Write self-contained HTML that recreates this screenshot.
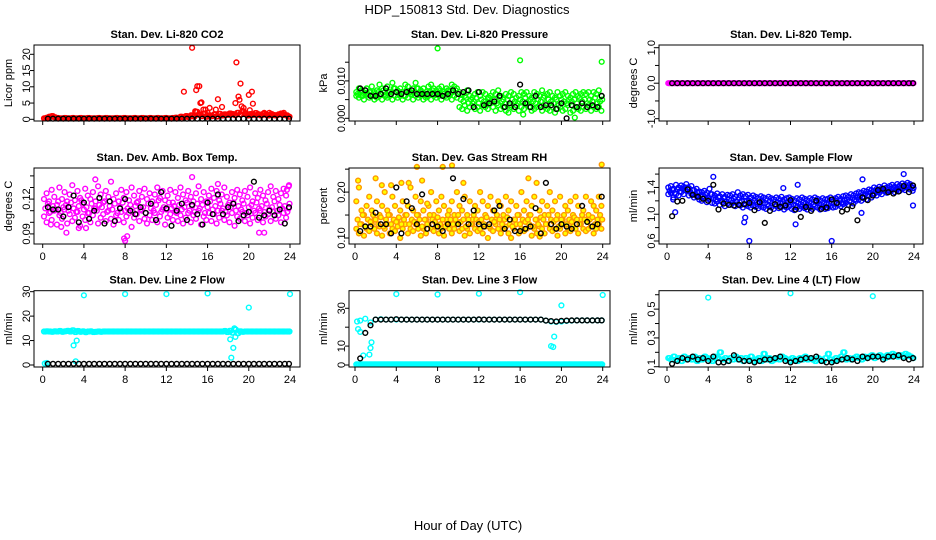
<!DOCTYPE html>
<html><head><meta charset="utf-8"><style>
html,body{margin:0;padding:0;background:#fff;}
svg{display:block;font-family:"Liberation Sans",sans-serif;}
</style></head><body>
<svg id="fig" width="936" height="540" viewBox="0 0 936 540">
<text x="467" y="14" text-anchor="middle" font-size="13">HDP_150813  Std. Dev. Diagnostics</text>
<text x="468" y="530" text-anchor="middle" font-size="13">Hour of Day (UTC)</text>
<defs><clipPath id="row1clip"><rect x="0" y="0" width="936" height="135"/></clipPath></defs>
</svg>
<script>
// ---------- shared sample hours ----------
const hoursQ = [0.125,0.375,0.625,0.875,1.125,1.375,1.625,1.875,2.125,2.375,2.625,2.875,3.125,3.375,3.625,3.875,4.125,4.375,4.625,4.875,5.125,5.375,5.625,5.875,6.125,6.375,6.625,6.875,7.125,7.375,7.625,7.875,8.125,8.375,8.625,8.875,9.125,9.375,9.625,9.875,10.125,10.375,10.625,10.875,11.125,11.375,11.625,11.875,12.125,12.375,12.625,12.875,13.125,13.375,13.625,13.875,14.125,14.375,14.625,14.875,15.125,15.375,15.625,15.875,16.125,16.375,16.625,16.875,17.125,17.375,17.625,17.875,18.125,18.375,18.625,18.875,19.125,19.375,19.625,19.875,20.125,20.375,20.625,20.875,21.125,21.375,21.625,21.875,22.125,22.375,22.625,22.875,23.125,23.375,23.625,23.875];
const hoursQ2 = [0.25,0.5,0.75,1,1.25,1.5,1.75,2,2.25,2.5,2.75,3,3.25,3.5,3.75,4,4.25,4.5,4.75,5,5.25,5.5,5.75,6,6.25,6.5,6.75,7,7.25,7.5,7.75,8,8.25,8.5,8.75,9,9.25,9.5,9.75,10,10.25,10.5,10.75,11,11.25,11.5,11.75,12,12.25,12.5,12.75,13,13.25,13.5,13.75,14,14.25,14.5,14.75,15,15.25,15.5,15.75,16,16.25,16.5,16.75,17,17.25,17.5,17.75,18,18.25,18.5,18.75,19,19.25,19.5,19.75,20,20.25,20.5,20.75,21,21.25,21.5,21.75,22,22.25,22.5,22.75,23,23.25,23.5,23.75,23.95];
const hoursH = [0.5,1,1.5,2,2.5,3,3.5,4,4.5,5,5.5,6,6.5,7,7.5,8,8.5,9,9.5,10,10.5,11,11.5,12,12.5,13,13.5,14,14.5,15,15.5,16,16.5,17,17.5,18,18.5,19,19.5,20,20.5,21,21.5,22,22.5,23,23.5,23.9];
const xTickValues = [0,4,8,12,16,20,24];
const xTickLabels = ["0","4","8","12","16","20","24"];

// ---------- Panel 1: CO2 ----------
const co2Red = [0.3,0.5,0.8,1,0.6,0.4,0.3,0.3,0.4,0.3,0.3,0.4,0.3,0.3,0.4,0.3,0.3,0.4,0.3,0.3,0.3,0.4,0.3,0.3,0.4,0.3,0.3,0.3,0.4,0.3,0.3,0.4,0.3,0.3,0.3,0.4,0.3,0.3,0.4,0.3,0.3,0.4,0.3,0.3,0.4,0.3,0.3,0.4,0.3,0.3,0.4,0.5,0.4,0.8,0.6,1,0.7,1.2,0.9,2.3,1.5,1,1.8,0.8,1.2,1,1.5,0.9,1.7,1.2,1.5,1.4,1.8,1.6,1.3,2,1.5,2.5,1.8,1.2,1.6,1.4,1.9,1.5,1.2,1.7,1.4,1.2,1.6,1.3,1.2,1.5,1.8,1.4,1.2,0.8];
const co2Black = [0.2,0.2,0.2,0.2,0.2,0.2,0.2,0.2,0.2,0.2,0.2,0.2,0.2,0.2,0.2,0.2,0.2,0.2,0.2,0.2,0.2,0.2,0.2,0.2,0.2,0.2,0.2,0.2,0.2,0.2,0.2,0.2,0.2,0.2,0.2,0.2,0.2,0.2,0.2,0.2,0.2,0.2,0.2,0.2,0.2,0.2,0.2,0.2];
const co2OutHours = [14.5,13.7,14.9,15.0,15.2,15.3,15.4,16.2,17.0,17.4,16.8,18.8,19.0,19.2,19.1,19.3,19.5,18.7,20.0,20.3,20.4,15.6,14.8,21.5,22,23.4,16.0,20.1,15.8];
const co2OutVals = [22,8.5,9,10.2,10.2,5,5.2,3.5,6.2,3.8,3,17.5,7,11,6,4,3.5,5,7.5,8.5,4.8,3,2.5,2,2,2,2,2.8,3];

// ---------- Panel 2: Pressure (units of 0.001 kPa) ----------
const presGreenA = [7,8,7.5,6.5,8,7,8.5,7,7.5,9,8,7,8.5,7,9.5,8,7.5,8,7,9,8.5,7,8,9.5,8,7.5,8,7,8.5,9,8,7.5,8,8.5,7,8,7.5,9,8.5,8,7,6.5,6,7.5,6,5.5,6.5,7,6,7,6.5,5.5,6,7,6.5,7.5,6,5,6.5,6,7,6.5,5.5,6,7,6.5,7,6,5.5,7,6.5,6,7.5,6,6.5,7,6,5.5,7,6,6.5,7,6,5.5,6.5,7,6,6.5,7,6.5,7,6,7,6.5,7.5,6];
const presGreenB = [6,5.5,6,5,6.5,5.5,6,5,5.5,6,5,6,5.5,6,5,6,5.5,6,5,6,5.5,6.5,5,6,5.5,6,5,5.5,6,5,6,5.5,6,5,6.5,5.5,6,5,6,5.5,3,2.5,3.5,2,3,4,2.5,3,2,3.5,3,2.5,4,3,2,3.5,2.5,3,2,1.5,3,2.5,3.5,2,3,2.5,4,3,2,2.5,3,3.5,2,3,2.5,2,3,1.5,2.5,3,2,2.5,3.5,1.5,2,3,2.5,2,3,2.5,3.5,2,3,2.5,3,2];
const presGreenC = [6.5,7,6,7.5,6.5,7,6,6.5,7,6.5,7.5,6,7,6.5,8,7,6.5,7,6,7.5,7,6.5,7,8,6.5,7,6.5,6,7,7.5,6.5,7,6.5,7,6,7.5,6.5,7,7.5,6.5,5,4.5,5.5,4,5,4.5,5.5,4,5,4.5,4,5.5,4.5,5,4,5.5,4.5,4,5,3.5,5,4.5,4,5,4.5,5.5,4,5,4.5,4,5,4.5,5.5,4,5,4.5,4,5,3.5,5,4.5,4,5,4.5,5,4,5.5,4.5,5,4,5,4.5,5.5,4,4.5,5];
const presBlack = [8,7.5,6,6,6.5,8,6.5,7,6.5,7,7.5,6.5,6.5,6.5,6.5,6.5,6,6.5,7.5,6.5,7,7.5,3,7,3.5,4,4.5,6,3,4,3,9,4,3,6,3,3.5,3.5,2.5,4,0,3.5,3,4,3,3.5,3,6];
const presOutHours = [8,16,23.9,21.3,16.3];
const presOutVals = [18.7,15.5,15.1,0.2,1];

// ---------- Panel 3: Li-820 Temp ----------
const tempMag = [0,0,0,0,0,0,0,0,0,0,0,0,0,0,0,0,0,0,0,0,0,0,0,0,0,0,0,0,0,0,0,0,0,0,0,0,0,0,0,0,0,0,0,0,0,0,0,0,0,0,0,0,0,0,0,0,0,0,0,0,0,0,0,0,0,0,0,0,0,0,0,0,0,0,0,0,0,0,0,0,0,0,0,0,0,0,0,0,0,0,0,0,0,0,0,0];
const tempBlack = [0,0,0,0,0,0,0,0,0,0,0,0,0,0,0,0,0,0,0,0,0,0,0,0,0,0,0,0,0,0,0,0,0,0,0,0,0,0,0,0,0,0,0,0,0,0,0,0];

// ---------- Panel 4: Amb Box Temp (units of 0.001 C) ----------
const ambMagA = [120,125,118,128,122,115,130,120,126,118,124,132,119,127,121,116,129,123,120,126,118,131,124,117,127,122,135,120,125,118,128,121,126,119,130,123,117,127,122,129,120,125,118,124,130,121,127,119,123,128,117,126,121,130,124,119,127,122,118,125,131,120,126,118,123,129,121,127,119,124,130,122,117,126,121,128,124,119,127,122,130,118,125,121,128,123,119,126,131,122,127,120,125,129,123,131];
const ambMagB = [105,100,108,102,110,98,106,103,111,99,107,101,104,109,97,105,102,108,100,106,112,99,104,107,101,110,103,98,106,102,109,100,105,108,96,104,107,101,110,103,99,106,102,108,100,105,111,98,104,107,102,109,101,106,99,104,108,100,106,103,110,98,105,102,108,101,107,99,104,110,102,106,100,108,97,105,103,109,101,106,99,104,108,102,110,100,105,107,101,109,103,106,100,108,104,112];
const ambMagC = [112,116,109,114,111,118,108,113,115,110,117,112,109,114,119,111,113,108,116,112,110,115,113,118,109,114,111,116,108,113,117,110,112,115,109,114,118,111,113,108,116,112,110,115,119,109,113,111,117,112,114,108,115,111,113,117,110,114,109,116,112,115,108,113,118,111,114,110,116,112,109,115,113,117,110,114,111,116,108,113,115,110,117,112,114,109,116,111,113,118,110,115,112,114,109,116];
const ambBlack = [113,111,111,105,113,123,100,117,103,110,121,99,118,101,112,120,110,107,113,108,116,102,126,112,97,110,116,102,115,107,98,117,107,124,107,113,116,101,106,109,135,104,106,110,106,111,99,113];
const ambOutHours = [5.1,14.5,17,8,2.3,8.2,0.8,21,21.5,1.8,3.5,4.2,23.7,23.9,7.9];
const ambOutVals = [137,139,133,84,91,88,98,91,91,96,95,95,128,132,86];

// ---------- Panel 5: Gas Stream RH (units of 0.01) ----------
const rhA = [18,21,16,15,17,19,16,14,18,15,17,20,16,15,19,17,14,16,18,15,17,21,16,19,15,18,16,14,17,20,15,18,16,19,17,14,16,18,15,20,17,16,19,15,18,14,17,16,20,18,15,17,19,16,14,18,17,15,19,16,18,14,17,15,20,16,18,15,17,19,14,16,18,15,17,20,16,18,15,19,14,17,16,18,15,19,17,14,16,19,15,18,17,16,19,17];
const rhB = [12,11,13,10.5,12,11.5,13,12,11,12.5,10.5,12,13,11,12,11.5,12.5,10,12,13,11,12,11.5,13,12,10.5,12,11,13,12,11.5,12.5,11,12,10.5,13,12,11,12,13,11.5,12,10.5,12,11,13,12,11.5,12,11,12.5,10,12,11.5,13,12,11,12,12.5,11,10,12,13,11,12,11.5,12,13,10.5,12,11,12.5,12,11,13,12,11.5,12,10.5,12,13,11,12,11.5,12.5,12,11,13,12,11.5,12,12.5,11,12,13,12];
const rhC = [14,13,15,12.5,14,13.5,15,14,13,14.5,12.5,14,15,13,14,13.5,14.5,13,14,15,13,14,13.5,15,14,12.5,14,13,15,14,13.5,14.5,13,14,12.5,15,14,13,14,15,13.5,14,12.5,14,13,15,14,13.5,14,13,14.5,12.5,14,13.5,15,14,13,14,14.5,13,12.5,14,15,13,14,13.5,14,15,12.5,14,13,14.5,14,13,15,14,13.5,14,12.5,14,15,13,14,13.5,14.5,14,13,15,14,13.5,14,14.5,13,14,15,14];
const rhBlack = [11.5,12.5,12.5,15.5,13,13,11,21,11,18,16.5,13,19.5,12,13,12.5,11.5,13,23,13,18.5,13,16,13,12.5,13,16,17,12,14,11.5,11.5,12,12.5,16.5,11,22,13,12,13,12.5,12,13,17,13.5,12.5,13,19];
const rhOutHours = [0.3,2,2.6,3.5,4.5,5.2,6,6.5,7,8.5,9.4,10.5,16.8,17.6,17.9,23.9];
const rhOutVals = [22.5,23,21.5,21.5,22,22,25.5,22.5,17.5,25.5,25.8,22,23,22,10.3,26];

// ---------- Panel 6: Sample Flow ----------
const flowBlueA = [1.4,1.42,1.38,1.44,1.4,1.43,1.41,1.45,1.39,1.42,1.36,1.38,1.34,1.33,1.35,1.32,1.38,1.3,1.28,1.31,1.27,1.3,1.26,1.29,1.28,1.3,1.26,1.33,1.28,1.3,1.27,1.29,1.25,1.28,1.26,1.24,1.27,1.25,1.23,1.26,1.24,1.22,1.25,1.23,1.26,1.22,1.24,1.25,1.23,1.21,1.24,1.22,1.25,1.23,1.21,1.24,1.22,1.25,1.23,1.21,1.24,1.22,1.23,1.25,1.22,1.24,1.26,1.23,1.27,1.28,1.26,1.3,1.28,1.31,1.33,1.32,1.35,1.34,1.37,1.36,1.4,1.38,1.41,1.39,1.43,1.4,1.42,1.44,1.41,1.45,1.43,1.46,1.44,1.47,1.45,1.43];
const flowBlueB = [1.3,1.32,1.25,1.3,1.28,1.33,1.3,1.35,1.28,1.3,1.25,1.27,1.22,1.2,1.24,1.18,1.22,1.17,1.16,1.19,1.14,1.18,1.12,1.16,1.14,1.17,1.12,1.15,1.13,1.1,1.14,1.12,1.1,1.13,1.11,1.09,1.12,1.1,1.08,1.12,1.1,1.08,1.12,1.09,1.11,1.07,1.1,1.12,1.08,1.06,1.1,1.08,1.11,1.09,1.07,1.1,1.08,1.12,1.1,1.07,1.1,1.08,1.09,1.12,1.1,1.11,1.14,1.12,1.15,1.17,1.14,1.18,1.16,1.2,1.22,1.2,1.24,1.22,1.27,1.25,1.3,1.28,1.32,1.3,1.35,1.32,1.34,1.36,1.33,1.37,1.35,1.38,1.36,1.4,1.37,1.35];
const flowBlueC = [1.35,1.37,1.32,1.37,1.34,1.38,1.36,1.4,1.34,1.36,1.3,1.32,1.28,1.27,1.29,1.25,1.3,1.24,1.22,1.25,1.2,1.24,1.19,1.22,1.21,1.23,1.19,1.24,1.2,1.2,1.2,1.2,1.18,1.2,1.18,1.16,1.2,1.17,1.15,1.19,1.17,1.15,1.18,1.16,1.18,1.14,1.17,1.18,1.15,1.13,1.17,1.15,1.18,1.16,1.14,1.17,1.15,1.18,1.16,1.14,1.17,1.15,1.16,1.18,1.16,1.17,1.2,1.17,1.21,1.22,1.2,1.24,1.22,1.25,1.27,1.26,1.3,1.28,1.32,1.3,1.35,1.33,1.36,1.35,1.39,1.36,1.38,1.4,1.37,1.41,1.39,1.42,1.4,1.43,1.41,1.39];
const flowBlack = [0.97,1.19,1.2,1.37,1.29,1.26,1.23,1.2,1.44,1.07,1.16,1.14,1.13,1.14,1.15,1.17,1.06,1.18,0.87,1.05,1.15,1.11,1.13,1.21,1.07,0.96,1.11,1.05,1.2,1.08,1.1,1.22,1.17,1.04,1.07,1.12,0.91,1.25,1.21,1.28,1.36,1.38,1.33,1.31,1.34,1.42,1.33,1.43];
const flowOutHours = [4.5,8,16,7.5,7.6,12.5,0.8,23,11.3,12.7,23.9,19,18.9,0.6];
const flowOutVals = [1.56,0.6,0.6,0.88,0.95,0.85,1.03,1.6,1.39,1.44,1.13,1.52,1.02,1.22];

// ---------- Panel 7: Line 2 Flow ----------
const line2Cyan = [13.7,13.8,13.7,13.6,13.8,13.7,13.9,13.6,13.8,14,13.7,14.2,13.5,13.9,13.6,13.8,13.4,13.7,13.8,13.5,13.6,13.7,13.6,13.7,13.7,13.7,13.7,13.7,13.7,13.7,13.7,13.7,13.7,13.7,13.7,13.7,13.7,13.7,13.7,13.7,13.7,13.7,13.7,13.7,13.7,13.7,13.7,13.7,13.7,13.7,13.7,13.7,13.7,13.7,13.7,13.7,13.7,13.7,13.7,13.7,13.7,13.7,13.7,13.7,13.7,13.7,13.7,13.7,13.7,13.7,13.9,13.5,14,13.2,14.5,13,13.8,13.6,13.7,13.7,13.7,13.7,13.7,13.7,13.7,13.7,13.7,13.7,13.7,13.7,13.7,13.7,13.7,13.7,13.7,13.7];
const line2Black = [0.5,0.5,0.5,0.5,0.5,0.5,0.5,0.5,0.5,0.5,0.5,0.5,0.5,0.5,0.5,0.5,0.5,0.5,0.5,0.5,0.5,0.5,0.5,0.5,0.5,0.5,0.5,0.5,0.5,0.5,0.5,0.5,0.5,0.5,0.5,0.5,0.5,0.5,0.5,0.5,0.5,0.5,0.5,0.5,0.5,0.5,0.5,0.5];
const line2OutHours = [4,8,12,16,20,24,3,3.3,3.2,18.2,18.5,18.3,18.6,18.7,0.2,0.4];
const line2OutVals = [28.5,29,29,29.3,23.5,29,8,10,1.5,10.5,7,3,15,11.5,0.6,0.8];

// ---------- Panel 8: Line 3 Flow ----------
const line3Cyan = [0.3,0.3,0.3,0.3,0.3,0.3,0.3,0.3,0.3,0.3,0.3,0.3,0.3,0.3,0.3,0.3,0.3,0.3,0.3,0.3,0.3,0.3,0.3,0.3,0.3,0.3,0.3,0.3,0.3,0.3,0.3,0.3,0.3,0.3,0.3,0.3,0.3,0.3,0.3,0.3,0.3,0.3,0.3,0.3,0.3,0.3,0.3,0.3,0.3,0.3,0.3,0.3,0.3,0.3,0.3,0.3,0.3,0.3,0.3,0.3,0.3,0.3,0.3,0.3,0.3,0.3,0.3,0.3,0.3,0.3,0.3,0.3,0.3,0.3,0.3,0.3,0.3,0.3,0.3,0.3,0.3,0.3,0.3,0.3,0.3,0.3,0.3,0.3,0.3,0.3,0.3,0.3,0.3,0.3,0.3,0.3];
const line3CyanHigh = [23.5,24.5,22.5,24,24.2,24,24,24,24,24,24,24,24,24,24,24,24,24,24,24,24,24,24,24,24,24,24,24,24,24,24,24,24,24,24,24,23.5,23,22.8,23,23.3,23.5,23.6,23.6,23.6,23.6,23.6,23.6];
const line3Black = [3.5,17,21,24,24,24,24,24.2,24,24,24,24,24,24,24,24,24,24,24,24,24,24,24,24.1,24,24,24,24,24,24,24,24,24,24,24,24,23.5,23.2,23,23.4,23.5,23.6,23.6,23.6,23.6,23.6,23.6,23.6];
const line3OutHours = [4,8,12,16,20,24,1.5,1.6,1.4,0.8,19,19.2,19.3,0.3,0.5,0.2];
const line3OutVals = [37.5,37.3,37.7,38.5,31.5,37,9,12,5.5,5,10,9.5,15,19,17.5,23];

// ---------- Panel 9: Line 4 (LT) Flow ----------
const line4Cyan = [0.16,0.15,0.17,0.15,0.16,0.14,0.17,0.15,0.16,0.15,0.17,0.14,0.16,0.15,0.17,0.16,0.15,0.14,0.17,0.16,0.2,0.15,0.16,0.14,0.16,0.15,0.17,0.15,0.16,0.14,0.16,0.15,0.17,0.14,0.15,0.16,0.14,0.19,0.15,0.16,0.14,0.15,0.16,0.15,0.17,0.16,0.15,0.14,0.16,0.15,0.14,0.16,0.15,0.17,0.15,0.16,0.15,0.14,0.16,0.15,0.14,0.16,0.19,0.15,0.14,0.16,0.15,0.17,0.2,0.15,0.16,0.15,0.16,0.17,0.16,0.15,0.17,0.16,0.17,0.18,0.16,0.17,0.18,0.17,0.16,0.18,0.17,0.19,0.18,0.17,0.18,0.17,0.19,0.18,0.17,0.16];
const line4Black = [0.12,0.14,0.16,0.15,0.17,0.15,0.16,0.14,0.17,0.13,0.13,0.14,0.18,0.15,0.14,0.14,0.13,0.14,0.15,0.15,0.16,0.17,0.14,0.13,0.14,0.15,0.16,0.16,0.17,0.14,0.13,0.13,0.14,0.15,0.16,0.15,0.14,0.17,0.16,0.17,0.17,0.15,0.17,0.17,0.18,0.16,0.15,0.16];
const line4OutHours = [4,12,20];
const line4OutVals = [0.58,0.61,0.59];

// ---------- y-axis ticks ----------
const co2Ticks = [0,5,10,15,20], co2TickLabels = ["0","5","10","15","20"];
const presTicks = [0,5,10,15], presTickLabels = ["0.000","","0.010",""];
const tempTicks = [-1,-0.5,0,0.5,1], tempTickLabels = ["-1.0","","0.0","","1.0"];
const ambTicks = [90,100,110,120,130,140], ambTickLabels = ["0.09","","","0.12","",""];
const rhTicks = [10,15,20,25], rhTickLabels = ["0.10","","0.20",""];
const flowTicks = [0.6,0.8,1.0,1.2,1.4,1.6], flowTickLabels = ["0.6","","1.0","","1.4",""];
const line2Ticks = [0,10,20,30], line2TickLabels = ["0","10","20","30"];
const line3Ticks = [0,10,20,30], line3TickLabels = ["0","10","","30"];
const line4Ticks = [0.1,0.2,0.3,0.4,0.5,0.6], line4TickLabels = ["0.1","","0.3","","0.5",""];

const NS = "http://www.w3.org/2000/svg";
const svg = document.getElementById('fig');
function mk(tag, attrs, parent) {
  const el = document.createElementNS(NS, tag);
  for (const k in attrs) el.setAttribute(k, attrs[k]);
  (parent || svg).appendChild(el);
  return el;
}

const colsX = [{l:34,r:300,x0:42.7,x24:290},{l:349,r:610,x0:355,x24:602.7},{l:659,r:923,x0:667,x24:914}];
const rowsY = [{t:45,b:121},{t:168,b:244},{t:290.7,b:367}];

function panel(col, row, name, title, ytitle, lo, hi, ticks, tickLabels, series) {
  const c = colsX[col], r = rowsY[row];
  const g = mk('g', {});
  
  
  const xs = h => c.x0 + (h / 24) * (c.x24 - c.x0);
  const ys = v => r.b - (v - lo) / (hi - lo) * (r.b - r.t);
  const t = mk('text', {x:(c.l + c.r) / 2, y:r.t - 7, 'text-anchor':'middle', 'font-size':11, 'font-weight':'bold'}, g);
  t.textContent = title;
  
  
  const yt = mk('text', {transform:`translate(${c.l - 22},${(r.t + r.b) / 2}) rotate(-90)`, 'text-anchor':'middle', 'font-size':11}, g);
  yt.textContent = ytitle;
  
  
  const pg = mk('g', {fill:'none', 'stroke-width':1.4}, g);
  
  
  series.forEach(s => {
    const n = Math.min(s.h.length, s.v.length);
    for (let i = 0; i < n; i++) {
      const cx = xs(s.h[i]), cy = ys(s.v[i]);
      const pt = mk('circle', {cx:cx.toFixed(1), cy:cy.toFixed(1), r:2.4, stroke:s.color, fill:s.fill || 'none'}, pg);
      
      
    }
  });
  const box = mk('rect', {x:c.l, y:r.t, width:c.r - c.l, height:r.b - r.t, fill:'none', stroke:'#000', 'stroke-width':1}, g);
  
  
  const xa = mk('g', {}, g);
  
  
  if (row === 0) xa.setAttribute('clip-path', 'url(#row1clip)');
  mk('line', {x1:xs(0), x2:xs(24), y1:r.b, y2:r.b, stroke:'#000'}, xa);
  xTickValues.forEach((h, i) => {
    mk('line', {x1:xs(h), x2:xs(h), y1:r.b, y2:r.b + 4, stroke:'#000'}, xa);
    const lb = mk('text', {x:xs(h), y:r.b + (row === 0 ? 24 : 16), 'text-anchor':'middle', 'font-size':11}, xa);
    lb.textContent = xTickLabels[i];
    
    
  });
  const ya = mk('g', {}, g);
  
  
  mk('line', {x1:c.l, x2:c.l, y1:ys(ticks[0]), y2:ys(ticks[ticks.length - 1]), stroke:'#000'}, ya);
  ticks.forEach((v, i) => {
    mk('line', {x1:c.l - 4, x2:c.l, y1:ys(v), y2:ys(v), stroke:'#000'}, ya);
    if (tickLabels[i]) {
      const lb = mk('text', {transform:`translate(${c.l - 4},${ys(v)}) rotate(-90)`, 'text-anchor':'middle', 'font-size':11}, ya);
      lb.textContent = tickLabels[i];
      
      
    }
  });
}

panel(0,0,'co2','Stan. Dev. Li-820 CO2','Licor ppm',-0.52,22.86,co2Ticks,co2TickLabels,[
  {key:'red',color:'#ff0000',h:hoursQ,v:co2Red},
  {key:'red-2',color:'#ff0000',h:hoursQ2,v:co2Red},
  {key:'red-outlier',color:'#ff0000',h:co2OutHours,v:co2OutVals},
  {key:'black',color:'#000',h:hoursH,v:co2Black}]);
panel(1,0,'pressure','Stan. Dev. Li-820 Pressure','kPa',-0.72,19.6,presTicks,presTickLabels,[
  {key:'green-a',color:'#00ff00',h:hoursQ,v:presGreenA},
  {key:'green-b',color:'#00ff00',h:hoursQ,v:presGreenB},
  {key:'green-c',color:'#00ff00',h:hoursQ2,v:presGreenC},
  {key:'green-outlier',color:'#00ff00',h:presOutHours,v:presOutVals},
  {key:'black',color:'#000',h:hoursH,v:presBlack}]);
panel(2,0,'li820-temp','Stan. Dev. Li-820 Temp.','degrees C',-1.065,1.076,tempTicks,tempTickLabels,[
  {key:'magenta',color:'#ff00ff',h:hoursQ,v:tempMag},
  {key:'magenta-2',color:'#ff00ff',h:hoursQ2,v:tempMag},
  {key:'black',color:'#000',h:hoursH,v:tempBlack}]);
panel(0,1,'amb-box-temp','Stan. Dev. Amb. Box Temp.','degrees C',81.3,146.8,ambTicks,ambTickLabels,[
  {key:'magenta-a',color:'#ff00ff',h:hoursQ,v:ambMagA},
  {key:'magenta-b',color:'#ff00ff',h:hoursQ,v:ambMagB},
  {key:'magenta-c',color:'#ff00ff',h:hoursQ2,v:ambMagC},
  {key:'magenta-outlier',color:'#ff00ff',h:ambOutHours,v:ambOutVals},
  {key:'black',color:'#000',h:hoursH,v:ambBlack}]);
panel(1,1,'gas-rh','Stan. Dev. Gas Stream RH','percent',8.69,25.25,rhTicks,rhTickLabels,[
  {key:'orange-a',color:'#ff9900',fill:'#ffff00',h:hoursQ,v:rhA},
  {key:'orange-b',color:'#ff9900',fill:'#ffff00',h:hoursQ,v:rhB},
  {key:'orange-c',color:'#ff9900',fill:'#ffff00',h:hoursQ2,v:rhC},
  {key:'orange-outlier',color:'#ff9900',fill:'#ffff00',h:rhOutHours,v:rhOutVals},
  {key:'black',color:'#000',h:hoursH,v:rhBlack}]);
panel(2,1,'sample-flow','Stan. Dev. Sample Flow','ml/min',0.555,1.691,flowTicks,flowTickLabels,[
  {key:'blue-a',color:'#0000ff',h:hoursQ,v:flowBlueA},
  {key:'blue-b',color:'#0000ff',h:hoursQ,v:flowBlueB},
  {key:'blue-c',color:'#0000ff',h:hoursQ2,v:flowBlueC},
  {key:'blue-outlier',color:'#0000ff',h:flowOutHours,v:flowOutVals},
  {key:'black',color:'#000',h:hoursH,v:flowBlack}]);
panel(0,2,'line2-flow','Stan. Dev. Line 2 Flow','ml/min',-0.82,30.4,line2Ticks,line2TickLabels,[
  {key:'cyan',color:'#00ffff',h:hoursQ,v:line2Cyan},
  {key:'cyan-2',color:'#00ffff',h:hoursQ2,v:line2Cyan},
  {key:'cyan-outlier',color:'#00ffff',h:line2OutHours,v:line2OutVals},
  {key:'black',color:'#000',h:hoursH,v:line2Black}]);
panel(1,2,'line3-flow','Stan. Dev. Line 3 Flow','ml/min',-1.06,39.3,line3Ticks,line3TickLabels,[
  {key:'cyan',color:'#00ffff',h:hoursQ,v:line3Cyan},
  {key:'cyan-2',color:'#00ffff',h:hoursQ2,v:line3Cyan},
  {key:'cyan-high',color:'#00ffff',h:hoursH,v:line3CyanHigh},
  {key:'cyan-outlier',color:'#00ffff',h:line3OutHours,v:line3OutVals},
  {key:'black',color:'#000',h:hoursH,v:line3Black}]);
panel(2,2,'line4-flow','Stan. Dev. Line 4 (LT) Flow','ml/min',0.098,0.628,line4Ticks,line4TickLabels,[
  {key:'cyan',color:'#00ffff',h:hoursQ,v:line4Cyan},
  {key:'cyan-2',color:'#00ffff',h:hoursQ2,v:line4Cyan},
  {key:'cyan-outlier',color:'#00ffff',h:line4OutHours,v:line4OutVals},
  {key:'black',color:'#000',h:hoursH,v:line4Black}]);
</script>
</body></html>
